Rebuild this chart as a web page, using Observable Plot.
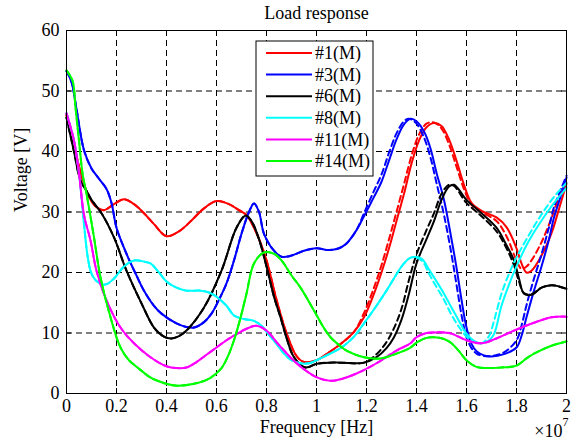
<!DOCTYPE html>
<html><head><meta charset="utf-8">
<script src="https://cdn.jsdelivr.net/npm/d3@7"></script>
<script src="https://cdn.jsdelivr.net/npm/@observablehq/plot@0.6"></script>
<style>
body{margin:0;background:#fff}
#chart{position:relative;width:576px;height:444px}
</style>
</head><body><div id="chart"></div>
<script>
// x in units of 1e7 Hz, y in V
const xTicks = [0,0.2,0.4,0.6,0.8,1,1.2,1.4,1.6,1.8,2];
const xTickLabels = ["0","0.2","0.4","0.6","0.8","1","1.2","1.4","1.6","1.8","2"];
const yTicks = [0,10,20,30,40,50,60];
const seriesNames = ["#1(M)","#3(M)","#6(M)","#8(M)","#11(M)","#14(M)"];
const seriesColors = ["#ff0000","#0000ff","#000000","#00ffff","#ff00ff","#00ff00"];

const s1M = [[0,46],[0.03,41],[0.06,36],[0.09,32.5],[0.12,30.8],[0.15,30.3],[0.19,31.3],[0.23,32.1],[0.27,31.3],[0.31,29.8],[0.35,28],[0.4,26],[0.45,26.8],[0.5,28.6],[0.55,30.6],[0.6,31.8],[0.65,31.3],[0.69,30.3],[0.72,29.5],[0.76,26.5],[0.8,22],[0.84,15.5],[0.88,10],[0.92,6.2],[0.95,5.2],[1.0,5.5],[1.05,6.8],[1.1,8.3],[1.15,10.2],[1.19,12.6],[1.23,16.5],[1.26,20],[1.29,24],[1.32,28.5],[1.35,33],[1.38,38],[1.41,41.8],[1.44,44],[1.47,44.7],[1.5,44.2],[1.53,42],[1.56,38.5],[1.59,34.5],[1.62,31.5],[1.66,30.2],[1.72,29.1],[1.76,27.5],[1.8,24],[1.82,21.5],[1.84,20],[1.86,20.3],[1.9,22.8],[1.94,26.5],[1.97,30.5],[2.0,34.7]];
const s1STail = [[1.19,13.3],[1.23,17.5],[1.26,21.2],[1.29,25.5],[1.32,30],[1.35,34.6],[1.38,39.3],[1.41,42.8],[1.44,44.6],[1.47,44.8],[1.5,43.8],[1.53,41.2],[1.56,37.5],[1.59,33.8],[1.62,31.2],[1.66,30],[1.72,28.5],[1.76,26],[1.8,22],[1.82,20.6],[1.84,21],[1.86,22],[1.9,25],[1.94,29],[1.97,32.5],[2.0,35.2]];

const s3M = [[0,53.3],[0.02,51.5],[0.04,47],[0.07,40.2],[0.1,37.2],[0.13,35.5],[0.16,33.8],[0.18,31.5],[0.2,27.4],[0.24,23.1],[0.28,19.5],[0.31,17],[0.35,14.5],[0.38,13.2],[0.44,11.6],[0.48,11],[0.51,10.9],[0.55,11.8],[0.58,13.2],[0.61,15.5],[0.64,18.2],[0.67,22],[0.7,26.4],[0.73,30],[0.75,31.4],[0.77,30],[0.79,26.4],[0.83,23.6],[0.86,22.6],[0.9,22.8],[0.95,23.6],[1.0,24],[1.05,23.7],[1.09,24],[1.12,24.8],[1.16,27],[1.19,29.3],[1.23,32.5],[1.26,35],[1.29,38.5],[1.32,42],[1.35,44.5],[1.376,45.4],[1.4,45],[1.43,43.3],[1.456,40.5],[1.48,36.5],[1.51,32],[1.54,25.5],[1.56,20.8],[1.58,15.5],[1.6,10.9],[1.62,8.2],[1.64,7],[1.67,6.3],[1.7,6.1],[1.75,6.5],[1.8,7.6],[1.82,9.5],[1.84,12.6],[1.87,17],[1.9,21],[1.93,25.5],[1.95,29.1],[1.98,33],[2.0,35.7]];
const s3STail = [[1.19,29.8],[1.23,33.5],[1.26,36.2],[1.29,39.8],[1.32,43],[1.35,45],[1.37,45.4],[1.4,44.6],[1.43,42.3],[1.456,39],[1.48,34.8],[1.51,29.5],[1.54,23],[1.56,18],[1.58,13],[1.6,9.3],[1.62,7.5],[1.64,6.6],[1.67,6.2],[1.7,6.2],[1.75,6.8],[1.8,8.8],[1.82,11.2],[1.84,14.6],[1.87,19],[1.9,23],[1.93,27.5],[1.95,30.8],[1.98,34],[2.0,36]];

const s6M = [[0,45.6],[0.03,40],[0.056,35.2],[0.08,33.5],[0.1,32],[0.14,29.8],[0.19,25.8],[0.24,20.3],[0.3,14.9],[0.35,10.9],[0.39,9.4],[0.42,9.1],[0.45,9.5],[0.48,10.4],[0.55,14.2],[0.62,20.3],[0.68,27.4],[0.716,29.4],[0.74,28.5],[0.77,25.5],[0.8,21],[0.83,16],[0.856,12.6],[0.88,9.2],[0.91,6],[0.956,4.3],[1.0,4.9],[1.05,5.1],[1.1,5.1],[1.19,5.1],[1.24,6],[1.28,7.5],[1.31,9.3],[1.34,12.2],[1.37,16.5],[1.4,21.5],[1.44,25.5],[1.47,28.5],[1.5,32],[1.53,34.2],[1.55,34.5],[1.6,32],[1.66,29.8],[1.72,27.4],[1.76,24.5],[1.79,22],[1.81,19],[1.83,16.5],[1.86,16.3],[1.9,17.5],[1.94,17.9],[1.97,17.7],[2.0,17.3]];
const s6STail = [[1.24,6.5],[1.28,8.5],[1.31,10.8],[1.34,14],[1.37,18.8],[1.4,23],[1.44,27],[1.47,29.8],[1.5,33],[1.53,34.5],[1.55,34.3],[1.6,31.5],[1.66,29.3],[1.72,26.8],[1.76,24],[1.79,21.2],[1.81,18.5],[1.83,16.6],[1.86,16.4],[1.9,17.5],[1.94,17.9],[1.97,17.7],[2.0,17.3]];

const s8M = [[0,46.3],[0.03,41.8],[0.05,36.4],[0.07,28],[0.085,22.5],[0.1,19.8],[0.12,18.6],[0.155,18],[0.19,19],[0.23,21],[0.27,22],[0.31,21.8],[0.336,21.5],[0.37,20],[0.4,18.5],[0.44,17.5],[0.48,17],[0.536,17],[0.57,16.7],[0.6,16],[0.64,14.5],[0.67,12.9],[0.71,12.3],[0.75,12],[0.78,11.2],[0.8,10.2],[0.84,8.2],[0.87,6.6],[0.9,5.5],[0.936,5],[0.97,5],[1.0,5.5],[1.05,6.5],[1.1,7.6],[1.15,9.4],[1.19,11.6],[1.24,14.5],[1.28,17],[1.32,19.7],[1.35,21.5],[1.38,22.5],[1.42,22.3],[1.45,20.5],[1.47,19.2],[1.51,16.5],[1.54,14.2],[1.57,12],[1.6,9.9],[1.63,8.7],[1.66,8.3],[1.69,8.8],[1.71,9.8],[1.74,14.5],[1.77,18],[1.8,21],[1.84,24.5],[1.88,27.3],[1.92,29.8],[1.96,32],[2.0,34]];
const s8STail = [[1.42,22],[1.45,19.8],[1.47,18.3],[1.51,15.5],[1.54,13],[1.57,11],[1.6,9.4],[1.63,8.5],[1.66,8.3],[1.69,9.5],[1.71,12],[1.74,16.5],[1.77,19.8],[1.8,22.5],[1.84,25.5],[1.88,28.3],[1.92,30.8],[1.96,33],[2.0,34.8]];

const s11M = [[0,46.3],[0.03,41.8],[0.05,36.4],[0.07,29.5],[0.096,25.3],[0.12,20.3],[0.16,15.4],[0.216,10.9],[0.27,8.3],[0.336,6],[0.4,4.5],[0.44,4.2],[0.48,4.3],[0.52,5.2],[0.56,6.4],[0.6,7.6],[0.64,8.8],[0.68,9.8],[0.72,10.7],[0.76,11.2],[0.8,10.4],[0.84,8.5],[0.87,7.1],[0.9,5.8],[0.95,4],[1.0,2.7],[1.056,2.1],[1.1,2.4],[1.16,3.3],[1.24,5],[1.32,7.1],[1.376,8.3],[1.4,9.3],[1.44,10],[1.47,10.1],[1.51,10.1],[1.54,9.9],[1.6,8.8],[1.66,8.3],[1.72,9.1],[1.79,10.4],[1.87,11.7],[1.94,12.6],[2.0,12.7]];

const s14M = [[0,53.4],[0.024,51.7],[0.036,47.3],[0.05,41.8],[0.064,36.4],[0.08,33],[0.095,29.5],[0.11,25.8],[0.136,19.2],[0.176,12.6],[0.216,7.6],[0.25,5.5],[0.284,4.3],[0.33,2.8],[0.364,2.1],[0.41,1.5],[0.444,1.3],[0.51,1.6],[0.576,2.6],[0.62,4.2],[0.644,6],[0.67,8.8],[0.696,12.5],[0.72,16.5],[0.75,21.5],[0.79,23.3],[0.83,23.1],[0.86,22],[0.9,19.5],[0.936,17.5],[0.99,13.7],[1.03,10.8],[1.056,9.3],[1.09,8],[1.12,7.1],[1.19,6],[1.256,5.8],[1.32,6.6],[1.376,7.6],[1.4,8.4],[1.44,9.2],[1.47,9.3],[1.51,9],[1.54,8.3],[1.57,7],[1.6,5.5],[1.64,4.4],[1.7,4.2],[1.74,4.3],[1.8,4.6],[1.84,5.8],[1.87,6.6],[1.94,7.9],[2.0,8.6]];

const measured = [s1M, s3M, s6M, s8M, s11M, s14M];
const simulated = [
  [...s1M.filter(p => p[0] < s1STail[0][0]), ...s1STail],
  [...s3M.filter(p => p[0] < s3STail[0][0]), ...s3STail],
  [...s6M.filter(p => p[0] < s6STail[0][0]), ...s6STail],
  [...s8M.filter(p => p[0] < s8STail[0][0]), ...s8STail],
  s11M,
  s14M
];

const W = 576, H = 444, mL = 66, mR = 10, mT = 30, mB = 51;
const pw = W - mL - mR, ph = H - mT - mB;
const font = "'Liberation Serif','Times New Roman',serif";

const lineMarks = [];
measured.forEach((m, i) => {
  lineMarks.push(Plot.line(m, {x: d => d[0], y: d => d[1], stroke: seriesColors[i], strokeWidth: 2, curve: "catmull-rom"}));
  lineMarks.push(Plot.line(simulated[i], {x: d => d[0], y: d => d[1], stroke: seriesColors[i], strokeWidth: 2, strokeDasharray: "6,4", curve: "catmull-rom"}));
});

const txt = {fontSize: 18, fontFamily: font, fill: "black", lineAnchor: "middle"};

const chart = Plot.plot({
  width: W, height: H,
  marginLeft: mL, marginRight: mR, marginTop: mT, marginBottom: mB,
  style: {fontFamily: font, fontSize: "18px", background: "white", color: "black"},
  x: {domain: [0, 2]},
  y: {domain: [0, 60]},
  marks: [
    Plot.gridX({ticks: xTicks, stroke: "black", strokeOpacity: 1, strokeDasharray: "6,4"}),
    Plot.gridY({ticks: yTicks, stroke: "black", strokeOpacity: 1, strokeDasharray: "6,4"}),
    Plot.ruleX(xTicks, {x: d => d, insetTop: ph - 5, stroke: "black"}),
    Plot.ruleX(xTicks, {x: d => d, insetBottom: ph - 5, stroke: "black"}),
    Plot.ruleY(yTicks, {y: d => d, insetRight: pw - 5, stroke: "black"}),
    Plot.ruleY(yTicks, {y: d => d, insetLeft: pw - 5, stroke: "black"}),
    ...lineMarks,
    Plot.frame({stroke: "black", strokeWidth: 1}),
    Plot.axisX({ticks: xTicks, tickSize: 0, tickPadding: 6, tickFormat: d => xTickLabels[Math.round(d * 5)], label: null, fontSize: 18, fontFamily: font, fill: "black"}),
    Plot.axisY({ticks: yTicks, tickSize: 0, tickPadding: 7, label: null, fontSize: 18, fontFamily: font, fill: "black"}),
    Plot.text(["Load response"], {...txt, frameAnchor: "top", dy: -17}),
    Plot.text(["Frequency [Hz]"], {...txt, frameAnchor: "bottom", dy: 34}),
    Plot.text(["Voltage [V]"], {...txt, frameAnchor: "left", dx: -45, rotate: -90}),
    Plot.text(["\u00d710"], {...txt, frameAnchor: "bottom-right", textAnchor: "end", dx: -4, dy: 38}),
    Plot.text(["7"], {...txt, fontSize: 12, frameAnchor: "bottom-right", textAnchor: "start", dx: -4, dy: 29})
  ]
});

document.getElementById("chart").appendChild(chart);

// legend
const svg = d3.select(chart);
const lg = svg.append("g").attr("transform", "translate(256,41)");
lg.append("rect").attr("width", 117).attr("height", 135).attr("fill", "white").attr("stroke", "black").attr("stroke-width", 1);
seriesNames.forEach((name, i) => {
  const yy = 12 + i * 21.6;
  lg.append("line").attr("x1", 10).attr("x2", 56).attr("y1", yy).attr("y2", yy).attr("stroke", seriesColors[i]).attr("stroke-width", 2);
  lg.append("text").attr("x", 59).attr("y", yy).attr("dy", "0.34em").attr("text-anchor", "start").attr("font-family", font).attr("font-size", 18).attr("fill", "black").text(name);
});
</script>
</body></html>
